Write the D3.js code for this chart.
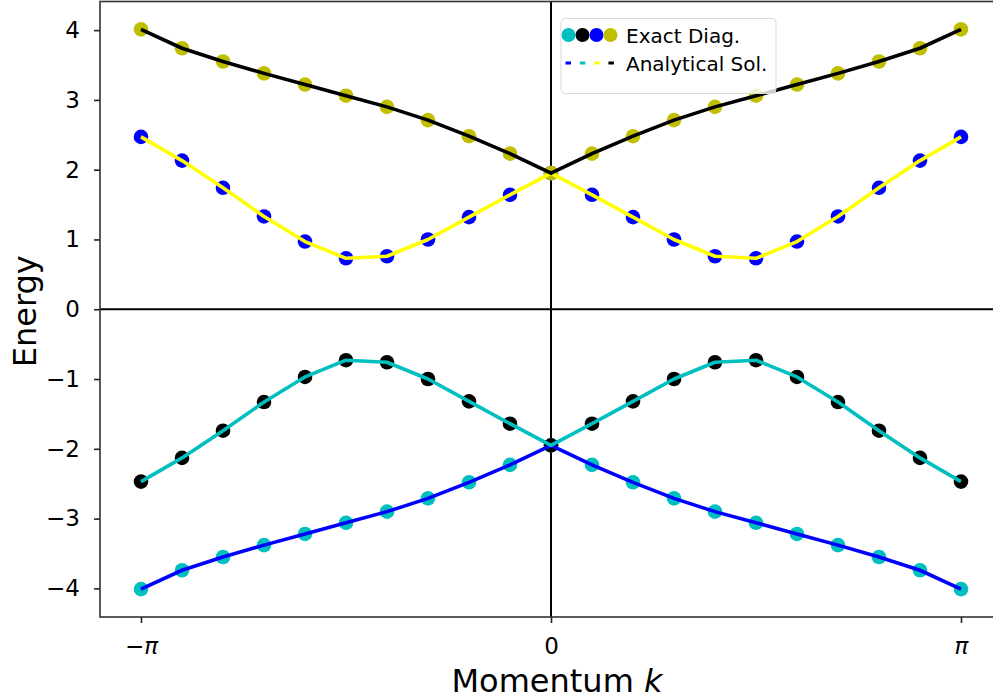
<!DOCTYPE html>
<html>
<head>
<meta charset="utf-8">
<script src="https://cdn.jsdelivr.net/npm/d3@7"></script>
<style>
  html, body { margin: 0; padding: 0; background: #fff; overflow: hidden; }
  svg { display: block; font-family: "DejaVu Sans", sans-serif; }
</style>
</head>
<body>
<svg id="chart" width="993" height="699"></svg>
<script>
// Momentum samples in units of pi: -1.0 .. 1.0 in steps of 0.1
const kIndex = d3.range(21);
const kOverPi = [-1.0, -0.9, -0.8, -0.7, -0.6, -0.5, -0.4, -0.3, -0.2, -0.1, 0.0,
                 0.1, 0.2, 0.3, 0.4, 0.5, 0.6, 0.7, 0.8, 0.9, 1.0];

// Band energies (exact diagonalisation and analytical solution coincide)
const bandTop    = [4.01, 3.74, 3.55, 3.38, 3.22, 3.06, 2.90, 2.71, 2.48, 2.23, 1.95,
                    2.23, 2.48, 2.71, 2.90, 3.06, 3.22, 3.38, 3.55, 3.74, 4.01];
const bandUpper  = [2.47, 2.13, 1.74, 1.33, 0.97, 0.73, 0.76, 1.00, 1.32, 1.64, 1.95,
                    1.64, 1.32, 1.00, 0.76, 0.73, 0.97, 1.33, 1.74, 2.13, 2.47];
const bandLower  = [-2.47, -2.13, -1.74, -1.33, -0.97, -0.73, -0.76, -1.00, -1.32, -1.64, -1.95,
                    -1.64, -1.32, -1.00, -0.76, -0.73, -0.97, -1.33, -1.74, -2.13, -2.47];
const bandBottom = [-4.01, -3.74, -3.55, -3.38, -3.22, -3.06, -2.90, -2.71, -2.48, -2.23, -1.95,
                    -2.23, -2.48, -2.71, -2.90, -3.06, -3.22, -3.38, -3.55, -3.74, -4.01];

const yTicks = [-4, -3, -2, -1, 0, 1, 2, 3, 4];
const xTicks = [-1, 0, 1];
const xTickLabels = ["−π", "0", "π"];

// Scatter (Exact Diag.) drawn in this order, then analytical lines on top
const scatterSeries = [
  { values: bandBottom, color: "#00bfbf" },
  { values: bandLower,  color: "#000000" },
  { values: bandUpper,  color: "#0000ff" },
  { values: bandTop,    color: "#bfbf00" }
];
const lineSeries = [
  { values: bandBottom, color: "#0000ff" },
  { values: bandLower,  color: "#00bfbf" },
  { values: bandUpper,  color: "#ffff00" },
  { values: bandTop,    color: "#000000" }
];
const legendDotColors = ["#00bfbf", "#000000", "#0000ff", "#bfbf00"];
const legendDashColors = ["#0000ff", "#00bfbf", "#ffff00", "#000000"];

const svg = d3.select("#chart");
const plot = { left: 100, right: 1002, top: 1.5, bottom: 617 };

const x = d3.scaleLinear().domain([-1.1, 1.1]).range([plot.left, plot.right]);
const y = d3.scaleLinear().domain([-4.41, 4.41]).range([plot.bottom, plot.top]);

svg.append("defs").append("clipPath").attr("id", "plotclip")
  .append("rect").attr("x", plot.left).attr("y", plot.top)
  .attr("width", plot.right - plot.left).attr("height", plot.bottom - plot.top);

const g = svg.append("g").attr("clip-path", "url(#plotclip)");

// Zero reference lines
g.append("line").attr("x1", plot.left).attr("x2", plot.right)
  .attr("y1", y(0)).attr("y2", y(0)).attr("stroke", "#000").attr("stroke-width", 2);
g.append("line").attr("x1", x(0)).attr("x2", x(0))
  .attr("y1", plot.top).attr("y2", plot.bottom).attr("stroke", "#000").attr("stroke-width", 2);

// Exact diagonalisation points
scatterSeries.forEach(s => {
  g.append("g").selectAll("circle").data(kIndex).join("circle")
    .attr("cx", i => x(kOverPi[i])).attr("cy", i => y(s.values[i]))
    .attr("r", 7.3).attr("fill", s.color);
});

// Analytical solution curves
const line = d3.line().x(i => x(kOverPi[i]));
lineSeries.forEach(s => {
  g.append("path").datum(kIndex)
    .attr("d", line.y(i => y(s.values[i])))
    .attr("fill", "none").attr("stroke", s.color).attr("stroke-width", 3.6)
    .attr("stroke-linejoin", "round");
});

// Axes
const yAxis = d3.axisLeft(y).tickValues(yTicks).tickSize(6).tickPadding(14)
  .tickFormat(d => d < 0 ? "−" + Math.abs(d) : String(d));
const yg = svg.append("g").attr("transform", `translate(${plot.left},0)`).call(yAxis);
const xAxis = d3.axisBottom(x).tickValues(xTicks).tickSize(6).tickPadding(15)
  .tickFormat((d, i) => xTickLabels[i]);
const xg = svg.append("g").attr("transform", `translate(0,${plot.bottom})`).call(xAxis);

[yg, xg].forEach(a => {
  a.select(".domain").remove();
  a.selectAll(".tick line").attr("stroke", "#222").attr("stroke-width", 1.6);
  a.selectAll(".tick text").attr("fill", "#000").attr("font-size", 23)
    .style("font-family", "DejaVu Sans, sans-serif");
});
xg.selectAll(".tick text").style("font-style", (d) => d === 0 ? "normal" : "italic");

// Spines
svg.append("rect").attr("x", plot.left).attr("y", plot.top)
  .attr("width", plot.right - plot.left).attr("height", plot.bottom - plot.top)
  .attr("fill", "none").attr("stroke", "#333").attr("stroke-width", 1.6);

// Axis titles
const xLabel = svg.append("text").attr("x", 557).attr("y", 692)
  .attr("text-anchor", "middle").style("font-size", "32px").attr("fill", "#000");
xLabel.append("tspan").text("Momentum ");
xLabel.append("tspan").style("font-style", "italic").text("k");

svg.append("text").attr("transform", `translate(36,${y(0) + 2}) rotate(-90)`)
  .attr("text-anchor", "middle").style("font-size", "32px").attr("fill", "#000")
  .text("Energy");

// Legend
const lg = svg.append("g").attr("transform", "translate(561,18.5)");
lg.append("rect").attr("width", 215).attr("height", 75).attr("rx", 4)
  .attr("fill", "#fff").attr("fill-opacity", 0.8)
  .attr("stroke", "#d9d9d9").attr("stroke-width", 1);
legendDotColors.forEach((c, i) => {
  lg.append("circle").attr("cx", 7.5 + i * 14).attr("cy", 16.5).attr("r", 7).attr("fill", c);
});
legendDashColors.forEach((c, i) => {
  lg.append("rect").attr("x", 4.5 + i * 14.3).attr("y", 43).attr("width", 5.5).attr("height", 3)
    .attr("fill", c);
});
lg.append("text").attr("x", 65).attr("y", 24).style("font-size", "20px").text("Exact Diag.");
lg.append("text").attr("x", 65).attr("y", 52).style("font-size", "20px").text("Analytical Sol.");
</script>
</body>
</html>
